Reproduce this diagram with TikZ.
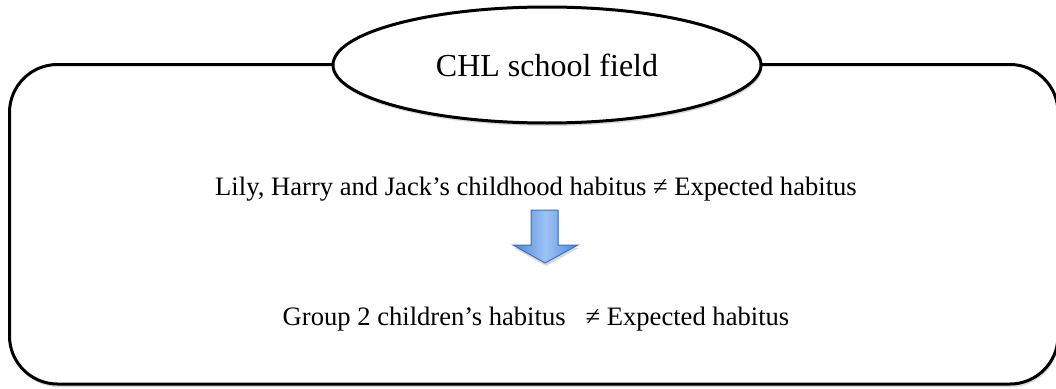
\documentclass[tikz,border=0pt]{standalone}
\usepackage{fontspec}
\setmainfont{Liberation Serif}
\usetikzlibrary{shapes.geometric,shadows}
\definecolor{arrowedge}{HTML}{3F72B8}
\definecolor{arrowlight}{HTML}{9DC3F6}
\definecolor{arrowdark}{HTML}{4D85D1}
\tikzset{
  softshadow/.style={drop shadow={shadow xshift=1pt,shadow yshift=-3pt,opacity=0.25,fill=black!60}},
  framebox/.style={draw=black,line width=3pt,rounded corners=48pt,fill=white,softshadow},
  fieldnode/.style={ellipse,draw=black,line width=3pt,fill=white,minimum width=428pt,minimum height=116pt,inner sep=0pt,softshadow,font=\fontsize{32}{38}\selectfont},
  txt/.style={anchor=base,inner sep=0pt,font=\fontsize{26.6}{32}\selectfont},
  blockarrow/.style={draw=arrowedge,line width=1pt,left color=arrowdark,right color=arrowdark,middle color=arrowlight,softshadow}
}
\begin{document}
\begin{tikzpicture}[x=1pt,y=-1pt]
\useasboundingbox (0,0) rectangle (1056,388);
\path[framebox] (9.5,64.5) rectangle (1058,384);
\node[fieldnode] (field) at (547,65) {CHL school field};
\node[txt] (t1) at (536,195) {Lily, Harry and Jack’s childhood habitus ≠ Expected habitus};
\node[txt] (t2) at (536,325) {Group 2 children’s habitus \ \ ≠ Expected habitus};
\coordinate (a1) at (531,210);
\coordinate (a2) at (558,210);
\coordinate (a3) at (558,245);
\coordinate (a4) at (578,245);
\coordinate (a5) at (545,263);
\coordinate (a6) at (513,245);
\coordinate (a7) at (531,245);
\path[blockarrow] (a1) -- (a2) -- (a3) -- (a4) -- (a5) -- (a6) -- (a7) -- cycle;
\end{tikzpicture}
\end{document}
